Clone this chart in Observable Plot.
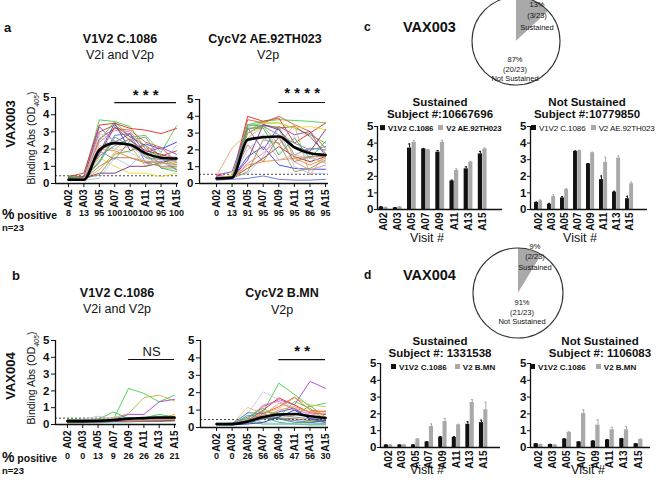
<!DOCTYPE html>
<html><head><meta charset="utf-8">
<script src="https://cdn.jsdelivr.net/npm/d3@7"></script>
<script src="https://cdn.jsdelivr.net/npm/@observablehq/plot@0.6"></script>
<style>
body{margin:0;background:#fff;}
#root{position:relative;width:660px;height:483px;overflow:hidden;font-family:"Liberation Sans",Arial,sans-serif;color:#111;background:#fff;}
.t{position:absolute;white-space:nowrap;line-height:1;}
.sq{display:inline-block;width:5px;height:5px;vertical-align:middle;margin-right:3px;position:relative;top:-1px;}
</style></head><body><div id="root"></div>
<script>
const FONT = '"Liberation Sans", Arial, sans-serif';
const visits = ["A02","A03","A05","A07","A09","A11","A13","A15"];
const palette = ["#3ed13e","#55c945","#e52620","#e0573a","#2f3fe0","#5a70dd","#9436c2","#8c5a32","#d6a96d","#e8dc2a","#d8b43a","#a9c6ec","#c0d0ea","#8a8a8a","#e583b4","#9a9a40","#70307a","#a83232","#2fb84a","#ee8a30","#c6b0e2","#6d8fa2","#b07c58"];

// Panel a, VAX003, V1V2 C.1086
const a1Lines = [
 [0.45,0.4,3.7,3.6,3.3,2.0,1.5,0.8],
 [0.3,0.3,2.5,3.6,2.7,2.8,1.8,3.35],
 [0.4,0.6,3.4,3.5,3.2,3.1,2.9,3.2],
 [0.3,0.35,2.6,3.2,3.1,2.4,2.1,1.2],
 [0.2,0.25,1.8,3.5,1.9,2.3,2.0,2.4],
 [0.25,0.3,1.3,2.8,2.9,1.2,1.3,0.8],
 [0.3,0.3,3.3,2.4,2.9,1.8,2.1,1.7],
 [0.3,0.35,3.0,3.4,2.7,2.2,1.6,1.9],
 [0.25,0.3,2.2,2.0,2.6,1.6,1.2,1.4],
 [0.2,0.2,1.5,1.0,0.6,0.6,0.4,0.6],
 [0.3,0.25,0.8,1.8,2.2,1.0,1.5,1.2],
 [0.3,0.2,0.3,1.5,1.0,2.0,1.4,1.6],
 [0.2,0.25,2.8,2.0,1.8,1.3,1.2,1.0],
 [0.25,0.3,1.9,1.4,2.5,2.7,1.4,1.1],
 [0.3,0.4,2.4,3.1,3.0,2.0,2.1,1.3],
 [0.25,0.3,0.5,1.7,1.9,2.2,0.9,0.9],
 [0.3,0.3,0.6,0.6,1.0,1.0,1.2,1.5],
 [0.35,0.4,1.7,3.3,2.5,1.9,1.7,1.4],
 [0.4,0.3,1.2,2.7,2.2,1.7,0.9,0.7],
 [0.2,0.3,2.0,1.9,1.5,1.3,1.2,1.1],
 [0.2,0.2,2.9,2.5,2.2,1.5,1.1,2.2],
 [0.3,0.35,1.6,2.2,2.6,1.5,1.4,1.3],
 [0.25,0.25,1.0,1.5,1.5,1.2,1.0,1.0]
];
const a1Mean = [0.22,0.22,1.95,2.35,2.25,1.75,1.5,1.45];
const a1Pct = [8,13,95,100,100,100,95,100];

// Panel a, VAX003, CycV2 AE.92TH023
const a2Lines = [
 [0.3,0.3,3.5,3.7,3.8,3.75,3.7,3.6],
 [0.35,0.3,3.4,3.6,3.6,3.3,2.9,2.4],
 [0.5,0.35,4.0,3.7,3.9,2.4,3.0,3.6],
 [0.3,0.3,3.8,3.6,4.0,3.5,3.1,2.1],
 [0.4,0.3,1.6,2.2,1.1,0.9,0.85,0.85],
 [0.2,0.25,0.3,0.45,0.25,0.2,0.2,0.25],
 [0.5,0.7,3.3,2.0,3.4,2.9,3.1,1.6],
 [0.35,0.4,3.0,3.5,3.3,3.4,2.8,1.8],
 [0.45,2.1,3.0,3.4,2.3,3.5,0.5,1.8],
 [0.3,0.5,3.2,3.6,3.6,3.3,3.4,3.2],
 [0.3,0.3,2.7,3.4,3.4,1.5,1.6,1.2],
 [0.3,0.4,0.6,1.6,3.3,1.0,0.6,0.6],
 [0.3,0.35,2.5,2.9,2.4,2.8,1.2,2.0],
 [0.35,0.3,3.2,3.5,3.3,1.7,2.1,2.0],
 [0.3,0.3,1.2,1.8,2.7,1.3,0.8,1.1],
 [0.3,0.3,0.7,2.6,2.4,0.7,0.9,1.4],
 [0.25,0.3,1.4,3.5,3.2,2.2,1.9,3.2],
 [0.3,0.35,0.9,1.5,2.2,1.6,1.3,1.6],
 [0.3,0.35,3.3,3.3,1.7,2.7,1.5,2.5],
 [0.25,0.3,1.1,1.3,1.4,1.5,1.1,1.5],
 [0.3,0.3,2.0,2.9,1.4,1.7,1.5,1.3],
 [0.3,0.3,3.5,3.4,2.9,2.4,2.0,2.2],
 [0.35,0.35,2.3,1.3,2.8,1.3,1.6,1.6]
];
const a2Mean = [0.3,0.35,2.6,2.75,2.8,2.15,1.8,1.7];
const a2Pct = [0,13,91,95,95,95,86,95];

// Panel b, VAX004, V1V2 C.1086
const b1Lines = [
 [0.3,0.3,0.3,0.3,2.15,1.85,1.35,1.75],
 [0.25,0.25,0.35,0.4,0.65,1.6,1.75,1.4],
 [0.2,0.2,0.2,0.3,0.6,0.6,1.35,1.5],
 [0.25,0.25,0.3,0.75,0.35,0.4,0.6,0.45],
 [0.2,0.3,0.5,0.35,0.4,0.4,0.5,0.4],
 [0.15,0.15,0.2,0.25,0.3,0.3,0.3,0.35],
 [0.1,0.1,0.15,0.2,0.25,0.25,0.3,0.6],
 [0.15,0.15,0.15,0.2,0.2,0.25,0.25,0.25],
 [0.2,0.2,0.2,0.2,0.3,0.3,0.3,0.3],
 [0.2,0.2,0.25,0.3,0.35,0.3,0.35,0.35],
 [0.15,0.2,0.25,0.3,0.3,0.35,0.4,0.5],
 [0.25,0.25,0.25,0.3,0.3,0.35,0.4,0.45],
 [0.2,0.2,0.3,0.3,0.3,0.3,0.25,0.3],
 [0.15,0.15,0.2,0.2,0.25,0.2,0.2,0.25],
 [0.2,0.25,0.25,0.25,0.3,0.3,0.3,0.3],
 [0.1,0.1,0.1,0.15,0.15,0.2,0.2,0.2],
 [0.15,0.15,0.15,0.2,0.2,0.2,0.2,0.25],
 [0.2,0.2,0.2,0.25,0.2,0.25,0.3,0.3]
];
const b1Colors = ["#3ed13e","#c8b14a","#a040d0","#3fbf4f","#c6c0ec","#e52620","#ee8a30","#2f3fe0","#5a70dd","#8c5a32","#e8dc2a","#1f8a2a","#a9c6ec","#e583b4","#8a8a8a","#3aa0a0","#a83232","#d6a96d"];
const b1Mean = [0.2,0.2,0.22,0.27,0.35,0.38,0.42,0.42];
const b1Pct = [0,0,13,9,26,26,26,21];

// Panel b, VAX004, CycV2 B.MN
const b2Lines = [
 [0.25,0.25,0.6,0.9,2.55,1.9,1.2,1.4],
 [0.2,0.2,0.5,1.2,1.6,1.3,2.65,2.25],
 [0.2,0.2,0.8,2.05,1.6,1.1,0.7,0.5],
 [0.2,0.2,1.15,0.8,1.1,1.7,1.3,1.2],
 [0.2,0.2,0.4,1.0,1.7,1.3,0.85,0.75],
 [0.2,0.2,0.3,0.8,1.2,1.75,1.0,0.9],
 [0.2,0.25,0.5,1.3,1.5,1.0,0.8,0.6],
 [0.15,0.15,0.25,0.5,0.9,1.1,0.5,0.3],
 [0.2,0.2,0.85,0.8,0.5,0.4,0.3,0.2],
 [0.2,0.2,0.6,1.1,0.6,1.5,1.1,0.4],
 [0.2,0.25,0.3,0.2,0.2,0.2,0.15,0.15],
 [0.2,0.2,0.3,0.6,1.0,1.2,0.9,0.95],
 [0.2,0.2,0.3,0.5,0.55,0.5,0.4,0.3],
 [0.15,0.15,0.7,0.6,0.3,0.2,0.2,0.2],
 [0.2,0.2,0.5,0.6,0.5,0.3,0.3,0.4],
 [0.2,0.2,0.4,0.5,0.7,0.6,0.5,0.5],
 [0.2,0.2,0.3,0.9,0.8,0.7,1.25,0.6],
 [0.2,0.2,0.5,0.3,0.2,0.2,0.2,0.2],
 [0.2,0.2,0.45,0.7,1.4,1.1,0.9,0.8],
 [0.15,0.15,0.2,0.3,0.6,1.0,0.5,0.4]
];
const b2Colors = ["#3ed13e","#b040e0","#c8c8ee","#d8c050","#e52620","#e0573a","#e583b4","#2f3fe0","#5a70dd","#55c945","#2fb84a","#ee8a30","#8c5a32","#3aa0a0","#1f8a2a","#8a8a8a","#9a9a40","#a9c6ec","#f09080","#2233aa"];
const b2Mean = [0.2,0.2,0.35,0.6,0.75,0.78,0.65,0.55];
const b2Pct = [0,0,26,56,65,47,56,30];

// Panels c and d: example subjects (mean + error)
const c1Black = [0.15,0.1,3.7,3.65,3.45,1.72,2.45,3.35];
const c1BlackErr = [0.02,0.02,0.25,0.03,0.1,0.05,0.12,0.15];
const c1Gray = [0.12,0.15,4.05,3.6,4.05,2.35,2.85,3.65];
const c1GrayErr = [0.02,0.03,0.1,0.02,0.12,0.1,0.05,0.05];
const c2Black = [0.42,0.32,0.7,3.5,2.75,1.8,1.05,0.65];
const c2BlackErr = [0.03,0.05,0.08,0.03,0.02,0.22,0.05,0.15];
const c2Gray = [0.52,0.78,1.2,3.55,3.42,2.85,3.1,1.55];
const c2GrayErr = [0.05,0.1,0.05,0.02,0.03,0.3,0.12,0.1];
const d1Black = [0.15,0.15,0.15,0.33,0.62,0.6,1.38,1.48];
const d1BlackErr = [0.01,0.01,0.01,0.02,0.03,0.05,0.15,0.15];
const d1Gray = [0.15,0.15,0.5,1.25,1.55,1.35,2.68,2.25];
const d1GrayErr = [0.02,0.02,0.03,0.15,0.18,0.03,0.18,0.45];
const d2Black = [0.22,0.18,0.5,0.33,0.38,0.45,0.52,0.22];
const d2BlackErr = [0.01,0.01,0.02,0.01,0.02,0.02,0.02,0.01];
const d2Gray = [0.18,0.15,0.9,2.02,1.33,1.05,1.05,0.48];
const d2GrayErr = [0.01,0.01,0.03,0.22,0.32,0.15,0.2,0.03];

const vax003Pie = [3, 20];
const vax004Pie = [2, 21];

const root = document.getElementById("root");

function txt(x, y, html, css, anchor) {
  const d = document.createElement("div");
  d.className = "t";
  d.innerHTML = html;
  d.style.cssText += css || "";
  d.style.left = x + "px";
  d.style.top = y + "px";
  const tr = {start: "translate(0,-50%)", middle: "translate(-50%,-50%)", rot: "translate(-50%,-50%) rotate(-90deg)"}[anchor || "middle"];
  d.style.transform = tr;
  root.appendChild(d);
  return d;
}

function spaghetti(cfg) {
  const rows = cfg.lines.flatMap((vals, s) => vals.map((v, i) => ({s, i, v, c: cfg.colors[s % cfg.colors.length]})));
  const meanRows = cfg.mean.map((v, i) => ({i, v}));
  const b = cfg.box, f = cfg.frame;
  const chart = Plot.plot({
    width: b.w, height: b.h,
    marginLeft: f.l - b.x, marginRight: b.x + b.w - f.r,
    marginTop: f.t - b.y, marginBottom: b.y + b.h - f.b,
    x: {domain: cfg.xdom, label: null},
    y: {domain: [0, 5], label: null},
    color: {type: "identity"},
    style: {fontFamily: FONT, background: "transparent", color: "#111", overflow: "visible"},
    marks: [
      Plot.ruleY([cfg.thresh], {stroke: "#444", strokeDasharray: "2,2", strokeWidth: 1}),
      Plot.line(rows, {x: "i", y: "v", z: "s", stroke: "c", strokeWidth: 0.9}),
      Plot.line(meanRows, {x: "i", y: "v", stroke: "#000", strokeWidth: 2.6, curve: "monotone-x"}),
      Plot.ruleX([cfg.xdom[0]], {stroke: "#111", strokeWidth: 1.3}),
      Plot.ruleY([0], {stroke: "#111", strokeWidth: 1.3}),
      Plot.axisY({ticks: [0,1,2,3,4,5], tickFormat: d => String(d), tickSize: 4, tickPadding: 2, fontSize: 11.5, fontWeight: "bold", label: null}),
      Plot.axisX({ticks: d3.range(visits.length), tickFormat: i => visits[i], tickRotate: -90, tickSize: 4, tickPadding: 2, fontSize: 10, fontWeight: "bold", label: null}),
      Plot.ruleY([cfg.sig], {x1: "from", x2: "to", y: "y", stroke: "#111", strokeWidth: 1.2}),
      Plot.text([cfg.sig], {x: d => (d.from + d.to) / 2, y: "y", text: "label", dy: cfg.sig.dy, fontSize: cfg.sig.size, fontWeight: cfg.sig.weight}),
      Plot.text(cfg.pct, {x: (d, i) => i, frameAnchor: "bottom", dy: cfg.pctDy, text: d => String(d), fontSize: 9, fontWeight: "bold"})
    ]
  });
  chart.style.position = "absolute";
  chart.style.left = b.x + "px";
  chart.style.top = b.y + "px";
  root.appendChild(chart);
}

function bars(cfg) {
  const rows = visits.flatMap((v, i) => [
    {i, s: 0, v: cfg.black[i], e: cfg.blackErr[i], c: "#111"},
    {i, s: 1, v: cfg.gray[i], e: cfg.grayErr[i], c: "#a9a9a9"}
  ]);
  const off = [-0.16, 0.16], hw = 0.15, cap = 0.07;
  const b = cfg.box, f = cfg.frame;
  const chart = Plot.plot({
    width: b.w, height: b.h,
    marginLeft: f.l - b.x, marginRight: b.x + b.w - f.r,
    marginTop: f.t - b.y, marginBottom: b.y + b.h - f.b,
    x: {domain: cfg.xdom, label: null},
    y: {domain: [0, 5], label: null},
    color: {type: "identity"},
    style: {fontFamily: FONT, background: "transparent", color: "#111", overflow: "visible"},
    marks: [
      Plot.ruleX(rows, {x: d => d.i + off[d.s], y1: "v", y2: d => d.v + d.e, stroke: "c", strokeWidth: 1}),
      Plot.ruleY(rows, {x1: d => d.i + off[d.s] - cap, x2: d => d.i + off[d.s] + cap, y: d => d.v + d.e, stroke: "c", strokeWidth: 1}),
      Plot.rect(rows, {x1: d => d.i + off[d.s] - hw, x2: d => d.i + off[d.s] + hw, y1: d => 0, y2: "v", fill: "c"}),
      Plot.ruleX([cfg.xdom[0]], {stroke: "#111", strokeWidth: 1.3}),
      Plot.ruleY([0], {stroke: "#111", strokeWidth: 1.3}),
      Plot.axisY({ticks: [0,1,2,3,4,5], tickFormat: d => String(d), tickSize: 3, tickPadding: 1, fontSize: 11.5, fontWeight: "bold", label: null}),
      Plot.axisX({ticks: d3.range(visits.length), tickFormat: i => visits[i], tickRotate: -90, tickSize: 0, tickPadding: 3, fontSize: 10, fontWeight: "bold", label: null})
    ]
  });
  chart.style.position = "absolute";
  chart.style.left = b.x + "px";
  chart.style.top = b.y + "px";
  root.appendChild(chart);
}

function pie(cx, cy, r, vals) {
  const pad = 2;
  const svg = d3.select(root).append("svg")
    .style("position", "absolute").style("left", (cx - r - pad) + "px").style("top", (cy - r - pad) + "px")
    .attr("width", 2 * r + 2 * pad).attr("height", 2 * r + 2 * pad);
  const g = svg.append("g").attr("transform", `translate(${r + pad},${r + pad})`);
  const arcs = d3.pie().sort(null)(vals);
  g.selectAll("path").data(arcs).join("path")
    .attr("d", d3.arc().innerRadius(0).outerRadius(r))
    .attr("fill", (d, i) => i === 0 ? "#a9a9a9" : "#fff");
  g.append("circle").attr("r", r).attr("fill", "none").attr("stroke", "#333").attr("stroke-width", 1.1);
}

// ---- Panel a ----
spaghetti({lines: a1Lines, colors: palette, mean: a1Mean, pct: a1Pct, thresh: 0.45,
  sig: {from: 3, to: 7, y: 4.7, label: "* * *", dy: -7, size: 15, weight: "bold"},
  box: {x: 0, y: 85, w: 185, h: 140}, frame: {l: 55, r: 178, t: 97, b: 183}, xdom: [-0.84, 7.13], pctDy: 32});
spaghetti({lines: a2Lines, colors: palette, mean: a2Mean, pct: a2Pct, thresh: 0.55,
  sig: {from: 4, to: 7, y: 4.82, label: "* * * *", dy: -9, size: 15, weight: "bold"},
  box: {x: 180, y: 85, w: 150, h: 140}, frame: {l: 199, r: 328, t: 99, b: 183}, xdom: [-1.09, 7.19], pctDy: 32});

// ---- Panel b ----
spaghetti({lines: b1Lines, colors: b1Colors, mean: b1Mean, pct: b1Pct, thresh: 0.38,
  sig: {from: 4, to: 7, y: 3.87, label: "NS", dy: -8, size: 13, weight: "normal"},
  box: {x: 0, y: 328, w: 185, h: 140}, frame: {l: 55, r: 176, t: 340, b: 424}, xdom: [-0.78, 7.13], pctDy: 34});
spaghetti({lines: b2Lines, colors: b2Colors, mean: b2Mean, pct: b2Pct, thresh: 0.46,
  sig: {from: 4, to: 7, y: 3.9, label: "* *", dy: -8, size: 15, weight: "bold"},
  box: {x: 180, y: 328, w: 150, h: 140}, frame: {l: 200, r: 328, t: 340, b: 427}, xdom: [-1.03, 7.19], pctDy: 31});

// ---- Panel c & d bars ----
bars({black: c1Black, blackErr: c1BlackErr, gray: c1Gray, grayErr: c1GrayErr,
  box: {x: 345, y: 118, w: 160, h: 115}, frame: {l: 377, r: 502, t: 126, b: 209}, xdom: [-0.43, 8.4]});
bars({black: c2Black, blackErr: c2BlackErr, gray: c2Gray, grayErr: c2GrayErr,
  box: {x: 500, y: 118, w: 155, h: 115}, frame: {l: 530, r: 647, t: 126, b: 209}, xdom: [-0.62, 8.38]});
bars({black: d1Black, blackErr: d1BlackErr, gray: d1Gray, grayErr: d1GrayErr,
  box: {x: 345, y: 355, w: 160, h: 115}, frame: {l: 380, r: 500, t: 363, b: 447}, xdom: [-0.59, 8.24]});
bars({black: d2Black, blackErr: d2BlackErr, gray: d2Gray, grayErr: d2GrayErr,
  box: {x: 500, y: 355, w: 155, h: 115}, frame: {l: 530, r: 650, t: 363, b: 447}, xdom: [-0.56, 7.84]});

pie(516, 41, 44, vax003Pie);
pie(518, 293, 45, vax004Pie);

// ---- Text ----
const B = "font-weight:bold;";
txt(4, 27, "a", B + "font-size:13px;", "start");
txt(120, 39, "V1V2 C.1086", B + "font-size:12.5px;");
txt(120, 55, "V2i and V2p", "font-size:12.5px;");
txt(265, 39, "CycV2 AE.92TH023", B + "font-size:12.5px;");
txt(268, 55, "V2p", "font-size:12.5px;");
txt(10, 124, "VAX003", B + "font-size:13px;", "rot");
txt(33, 138, "Binding Abs (OD<sub style='font-size:7px;font-style:italic'>405</sub>)", "font-size:10.5px;", "rot");
txt(2, 214, "<span style='font-size:14px'>%</span> positive", B + "font-size:10.5px;", "start");
txt(2, 228, "n=23", B + "font-size:9.5px;", "start");

txt(12, 275, "b", B + "font-size:13px;", "start");
txt(117, 293, "V1V2 C.1086", B + "font-size:12.5px;");
txt(117, 309, "V2i and V2p", "font-size:12.5px;");
txt(282, 293, "CycV2 B.MN", B + "font-size:12.5px;");
txt(282, 310, "V2p", "font-size:12.5px;");
txt(10, 376, "VAX004", B + "font-size:13px;", "rot");
txt(33, 378, "Binding Abs (OD<sub style='font-size:7px;font-style:italic'>405</sub>)", "font-size:10.5px;", "rot");
txt(2, 457, "<span style='font-size:14px'>%</span> positive", B + "font-size:10.5px;", "start");
txt(2, 471, "n=23", B + "font-size:9.5px;", "start");

txt(364, 27, "c", B + "font-size:12px;", "start");
txt(403, 27, "VAX003", B + "font-size:14.5px;", "start");
txt(537, 5, "13%", "font-size:7.5px;");
txt(537, 16, "(3/23)", "font-size:7.5px;");
txt(537, 28, "Sustained", "font-size:7.5px;");
txt(515, 60, "87%", "font-size:7.5px;");
txt(515, 70, "(20/23)", "font-size:7.5px;");
txt(515, 79, "Not Sustained", "font-size:7.5px;");
txt(440, 103, "Sustained", B + "font-size:11.5px;");
txt(440, 115, "Subject #:10667696", B + "font-size:11.5px;");
txt(587, 103, "Not Sustained", B + "font-size:11.5px;");
txt(587, 115, "Subject #:10779850", B + "font-size:11.5px;");
txt(380, 129, "<span class='sq' style='background:#111'></span>V1V2 C.1086 <span class='sq' style='background:#a9a9a9;margin-left:3px'></span>V2 AE.92TH023", B + "font-size:7.8px;letter-spacing:-0.1px;", "start");
txt(531, 129, "<span class='sq' style='background:#111'></span>V1V2 C.1086 <span class='sq' style='background:#a9a9a9;margin-left:3px'></span>V2 AE.92TH023", "font-size:8px;letter-spacing:-0.1px;", "start");
txt(427, 238, "Visit #", "font-size:12.5px;");
txt(580, 238, "Visit #", "font-size:12.5px;");

txt(364, 275, "d", B + "font-size:12px;", "start");
txt(403, 275, "VAX004", B + "font-size:14.5px;", "start");
txt(535, 247, "9%", "font-size:7.5px;");
txt(535, 257, "(2/23)", "font-size:7.5px;");
txt(535, 268, "Sustained", "font-size:7.5px;");
txt(522, 303, "91%", "font-size:7.5px;");
txt(522, 313, "(21/23)", "font-size:7.5px;");
txt(522, 322, "Not Sustained", "font-size:7.5px;");
txt(440, 342, "Sustained", B + "font-size:11.5px;");
txt(440, 354, "Subject #: 1331538", B + "font-size:11.5px;");
txt(600, 342, "Not Sustained", B + "font-size:11.5px;");
txt(600, 354, "Subject #: 1106083", B + "font-size:11.5px;");
txt(391, 368, "<span class='sq' style='background:#111'></span>V1V2 C.1086 <span class='sq' style='background:#a9a9a9;margin-left:6px'></span>V2 B.MN", B + "font-size:8px;", "start");
txt(530, 368, "<span class='sq' style='background:#111'></span>V1V2 C.1086 <span class='sq' style='background:#a9a9a9;margin-left:8px'></span>V2 B.MN", B + "font-size:8px;", "start");
txt(427, 470, "Visit #", "font-size:12.5px;");
txt(588, 470, "Visit #", "font-size:12.5px;");
</script>
</body></html>
